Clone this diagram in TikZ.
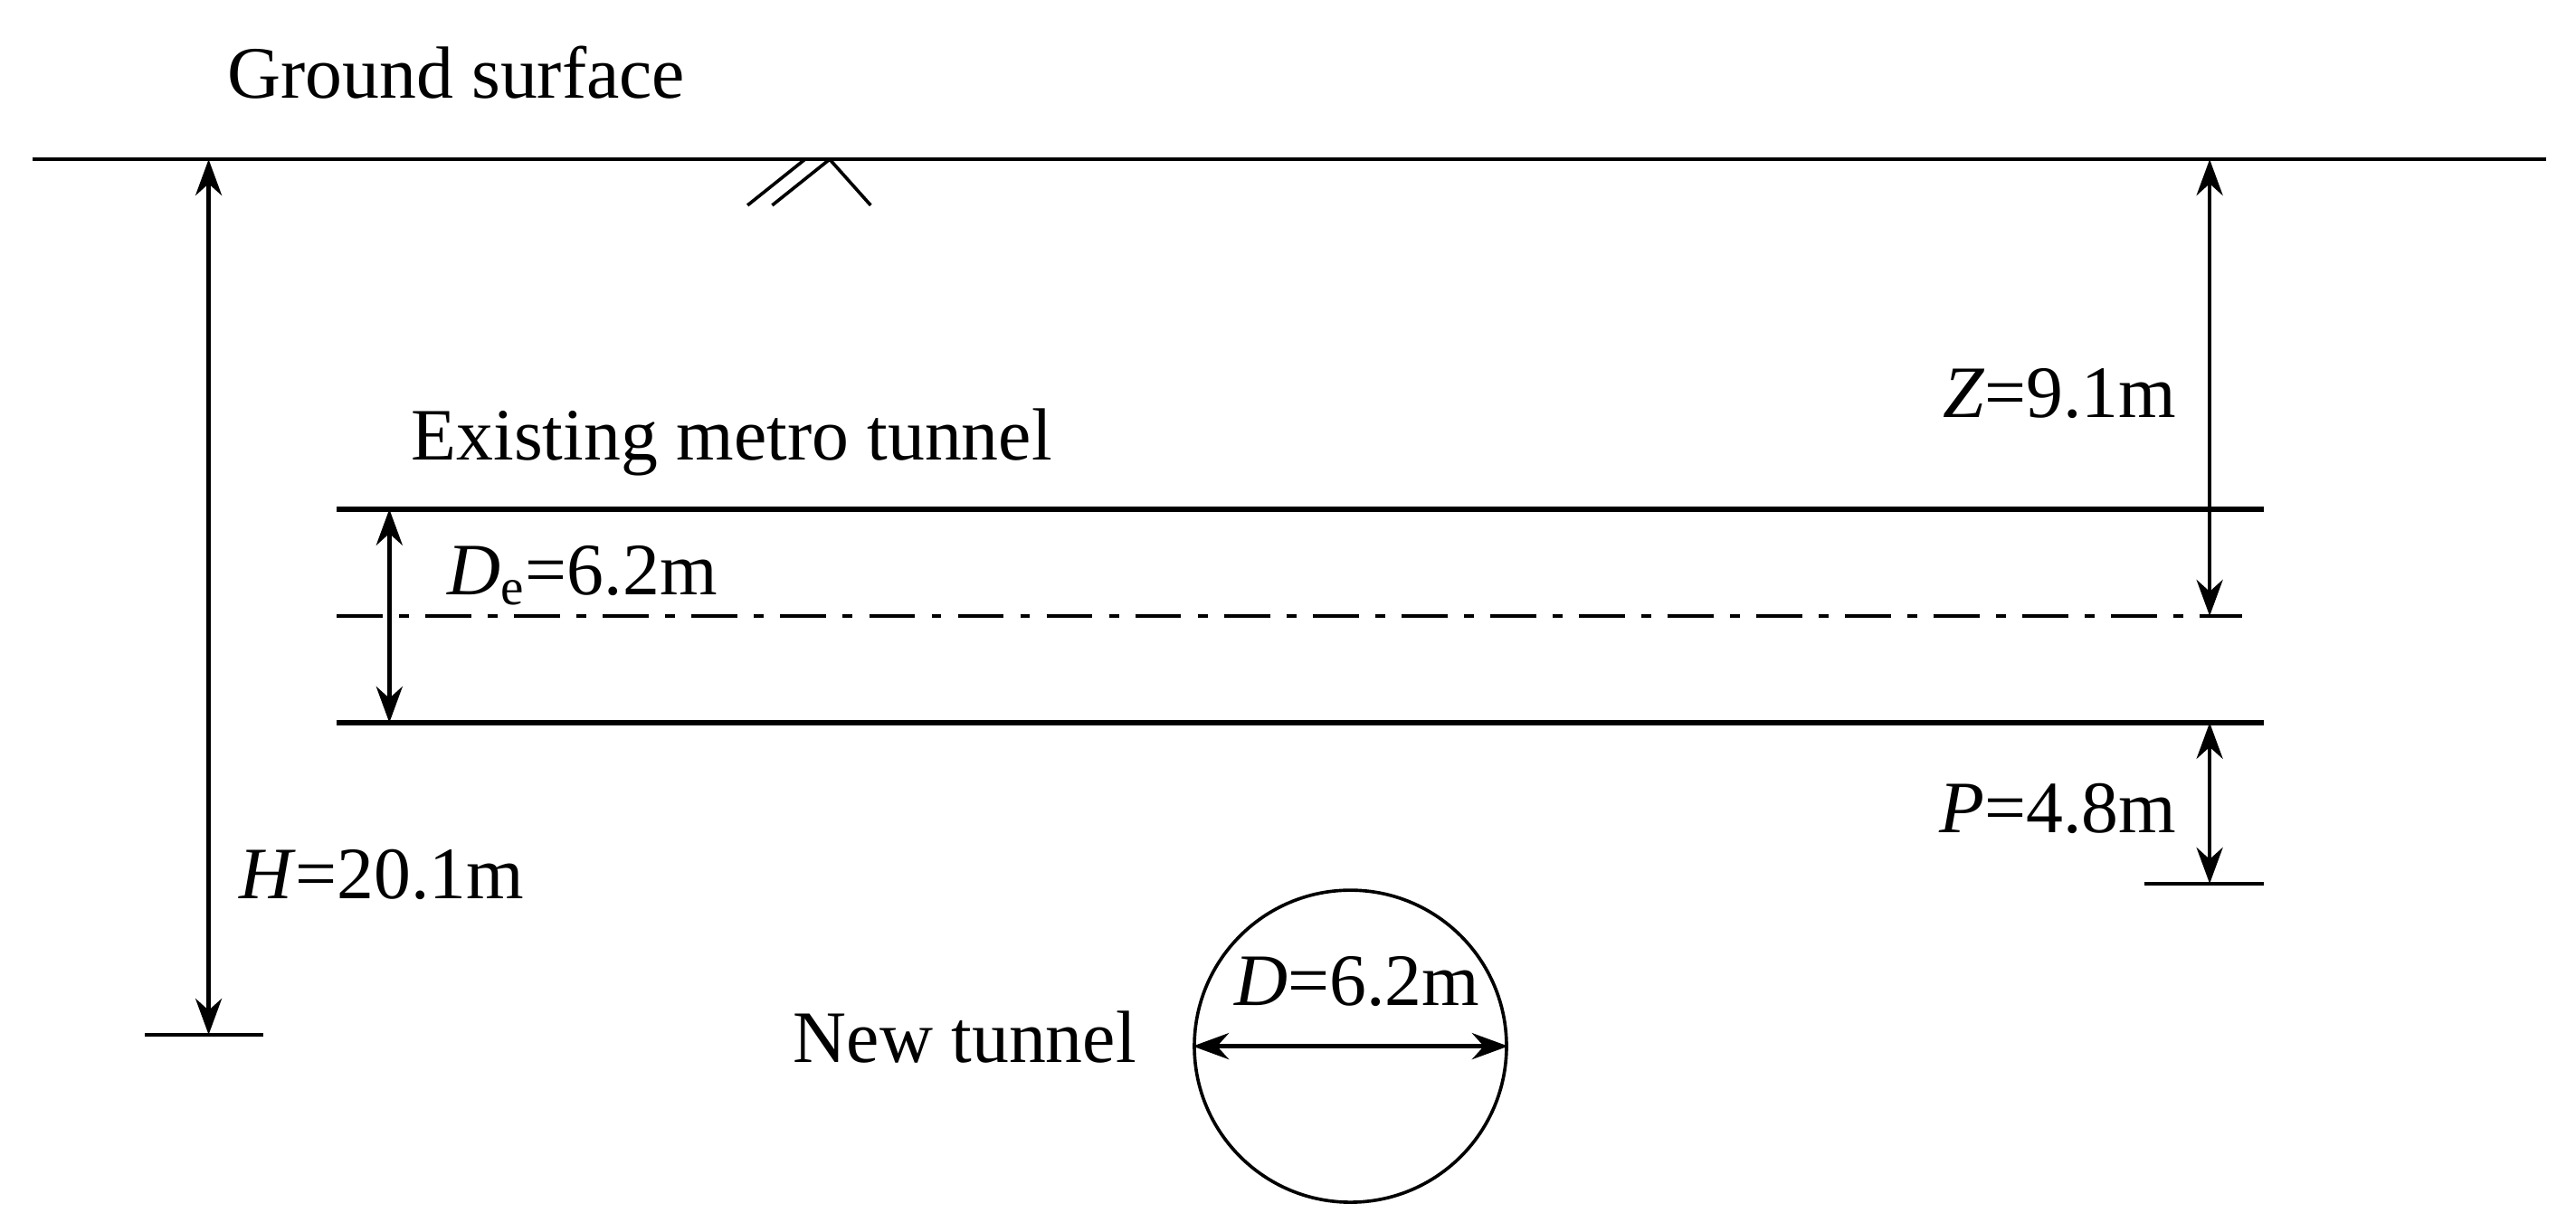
\documentclass[tikz,border=0pt]{standalone}
\usepackage{fontspec}
\setmainfont{Liberation Serif}
\usetikzlibrary{arrows.meta}
\begin{document}
\begin{tikzpicture}[x=0.5pt,y=-0.5pt,
  ln/.style={line width=1.6pt},
  dim/.style={line width=1.3pt,{Stealth[length=11pt,width=8pt]}-{Stealth[length=11pt,width=8pt]}},
  lbl/.style={font=\fontsize{22.5}{26}\selectfont,inner sep=0pt}]
\useasboundingbox (0,0) rectangle (1568,750);
% ground
\coordinate (g1) at (20,97); \coordinate (g2) at (1550,97);
\draw[line width=1pt] (g1) -- (g2);
\node[lbl,anchor=base west] (gs) at (138,60) {Ground surface};
\draw[line width=1pt] (455,125) -- (490,97) (470,125) -- (505,97) (505,97) -- (530,125);
% H
\coordinate (h1) at (127,97); \coordinate (h2) at (127,630);
\draw[dim] (h1) -- (h2);
\draw[line width=1pt] (88,630) -- (160,630);
\node[lbl,anchor=base west] (hl) at (145,547) {\textit{H}=20.1m};
% existing tunnel
\draw[ln] (205,310) -- (1378,310);
\draw[ln] (205,440) -- (1378,440);
\draw[line width=1pt,dash pattern=on 14pt off 5pt on 3pt off 5pt] (205,375) -- (1365,375);
\node[lbl,anchor=base west] (et) at (250,280) {Existing metro tunnel};
\coordinate (d1) at (237,310); \coordinate (d2) at (237,440);
\draw[dim] (d1) -- (d2);
\node[lbl,anchor=base west] (dl) at (272,362) {\textit{D}\textsubscript{e}=6.2m};
% Z
\coordinate (z1) at (1345,97); \coordinate (z2) at (1345,375);
\draw[dim] (z1) -- (z2);
\node[lbl,anchor=base east] (zl) at (1325,254) {\textit{Z}=9.1m};
% P
\coordinate (p1) at (1345,440); \coordinate (p2) at (1345,538);
\draw[dim] (p1) -- (p2);
\draw[line width=1pt] (1305,538) -- (1378,538);
\node[lbl,anchor=base east] (pl) at (1325,507) {\textit{P}=4.8m};
% new tunnel
\node[draw,line width=1pt,circle,minimum size=95pt,inner sep=0pt] (nt) at (822,637) {};
\draw[dim] (nt.west) -- (nt.east);
\node[lbl,anchor=base] (dd) at (826,612) {\textit{D}=6.2m};
\node[lbl,anchor=base east] (ntl) at (692,647) {New tunnel};
\end{tikzpicture}
\end{document}
